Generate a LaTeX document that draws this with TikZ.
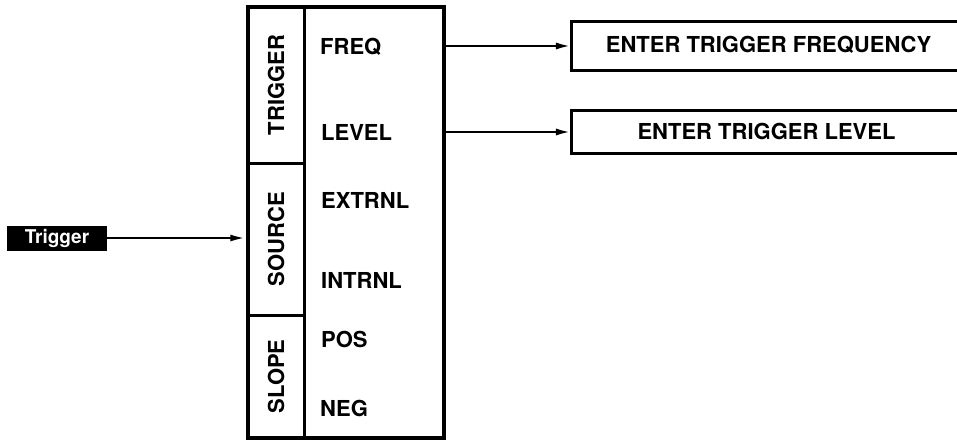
\documentclass[tikz,border=0pt]{standalone}
\usepackage{fontspec}
\setmainfont{TeX Gyre Heros}
\usetikzlibrary{positioning,calc,arrows.meta}
\tikzset{
  lab/.style={font=\fontsize{22}{25}\selectfont\bfseries,inner sep=0},
  cell/.style={rectangle,draw,line width=3pt,minimum width=56pt,inner sep=0},
  menu/.style={rectangle,draw,line width=3.5pt,minimum width=196pt,minimum height=431pt,inner sep=0},
  side/.style={lab,rotate=90},
  entry/.style={lab,anchor=west},
  % the prompt boxes run off the right edge, so only three sides are drawn
  prompt/.style={rectangle,draw=none,minimum width=385pt,inner sep=0},
  promptedge/.style={line width=3pt},
  key/.style={rectangle,fill=black,text=white,minimum width=100pt,minimum height=25pt,inner sep=0,
              font=\fontsize{19}{22}\selectfont\bfseries},
  arrow/.style={-{Latex[length=16pt,width=7pt]},line width=2.6pt},
}
\begin{document}
\begin{tikzpicture}[x=1pt,y=-1pt]
  \useasboundingbox (0,0) rectangle (957,440);
  % the menu column
  \node[menu] (menu) at (346,222.5) {};
  \node[cell,minimum height=156pt] (trigcell) at (276,85) {};
  \node[cell,minimum height=152pt] (srccell) at (276,239) {};
  \node[cell,minimum height=123pt] (slopecell) at (276,376.5) {};
  \node[side] at (trigcell) {TRIGGER};
  \node[side] at (srccell) {SOURCE};
  \node[side] at (slopecell) {SLOPE};
  \node[entry] (freq) at (320,47) {FREQ};
  \node[entry] (level) at (321,132) {LEVEL};
  \node[entry] (extrnl) at (321,200) {EXTRNL};
  \node[entry] (intrnl) at (321,280) {INTRNL};
  \node[entry] (pos) at (321,339) {POS};
  \node[entry] (neg) at (320,408) {NEG};
  % prompts
  \node[prompt,minimum height=48pt] (fprompt) at (764.5,46) {};
  \node[prompt,minimum height=43pt] (lprompt) at (764.5,132) {};
  \node[lab] at ($(fprompt)+(4,-1)$) {ENTER TRIGGER FREQUENCY};
  \node[lab] at ($(lprompt)+(2,-1)$) {ENTER TRIGGER LEVEL};
  \foreach \p in {fprompt,lprompt} {
    \draw[promptedge] ($(\p.north east)+(5,0)$) -- (\p.north west) -- (\p.south west) -- ($(\p.south east)+(5,0)$);
  }
  \draw[arrow] (menu.east |- fprompt.west) -- (fprompt.west);
  \draw[arrow] (menu.east |- lprompt.west) -- (lprompt.west);
  % softkey
  \node[key] (trig) at (57,238) {Trigger};
  \draw[arrow] (trig.east) -- (trig.east -| menu.west);
\end{tikzpicture}
\end{document}
